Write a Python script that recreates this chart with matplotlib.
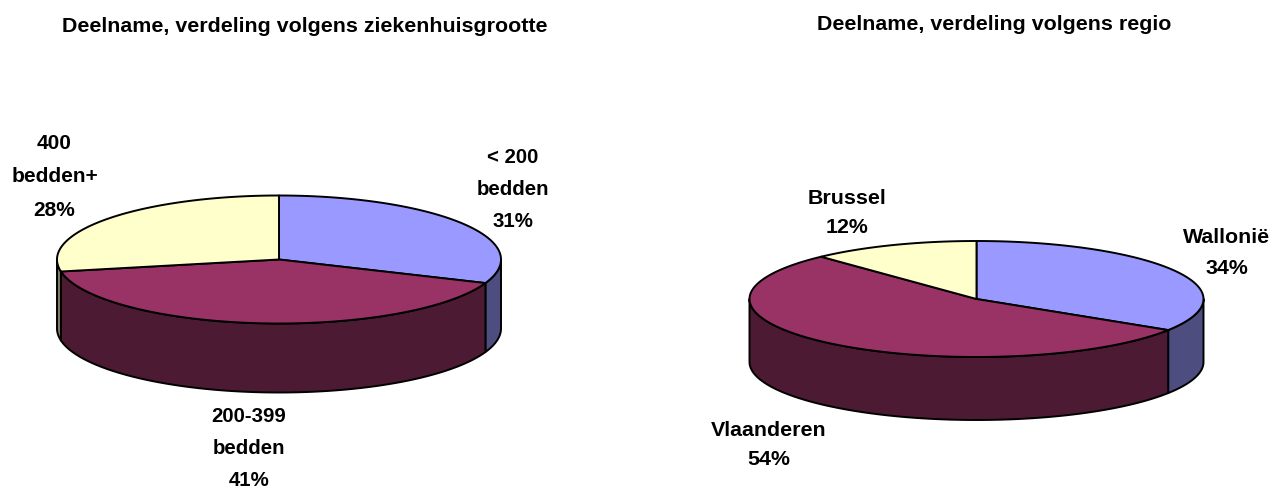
import numpy as np
import matplotlib
matplotlib.use("Agg")
import matplotlib.pyplot as plt
from matplotlib.patches import Polygon

plt.rcParams['font.family'] = ['Liberation Sans', 'DejaVu Sans']

size_title = "Deelname, verdeling volgens ziekenhuisgrootte"
size_labels = ["< 200\nbedden\n31%", "200-399\nbedden\n41%", "400\nbedden+\n28%"]
size_values = [31, 41, 28]

region_title = "Deelname, verdeling volgens regio"
region_labels = ["Wallonië\n34%", "Vlaanderen\n54%", "Brussel\n12%"]
region_values = [34, 54, 12]

top_colors = ["#9999FF", "#993366", "#FFFFCC"]
side_colors = ["#4D4D80", "#4D1A33", "#808066"]
EDGE = "black"
W, H = 1286, 489

fig = plt.figure(figsize=(W / 100, H / 100), dpi=100, facecolor="white")
ax = fig.add_axes([0, 0, 1, 1])
ax.set_xlim(0, W)
ax.set_ylim(H, 0)
ax.axis("off")


def pie3d(values, cx, cy, rx, ry, depth):
    fr = np.cumsum([0] + list(values)) / np.sum(values) * 2 * np.pi
    lw = 1.4
    # visible outer walls (front half of the rim)
    for i in range(len(values)):
        a, b = fr[i], fr[i + 1]
        lo, hi = max(a, np.pi / 2), min(b, 3 * np.pi / 2)
        if hi > lo:
            t = np.linspace(lo, hi, 100)
            x = cx + rx * np.sin(t)
            y = cy - ry * np.cos(t)
            pts = np.r_[np.c_[x, y], np.c_[x, y + depth][::-1]]
            ax.add_patch(Polygon(pts, closed=True, fc=side_colors[i], ec=EDGE, lw=lw, joinstyle="round", zorder=2))
    # top slices
    for i in range(len(values)):
        t = np.linspace(fr[i], fr[i + 1], 200)
        x = cx + rx * np.sin(t)
        y = cy - ry * np.cos(t)
        pts = np.r_[[[cx, cy]], np.c_[x, y]]
        ax.add_patch(Polygon(pts, closed=True, fc=top_colors[i], ec=EDGE, lw=lw, joinstyle="round", zorder=3))


pie3d(size_values, 279, 260.5, 222, 64, 69)
pie3d(region_values, 976.5, 300, 227, 58, 63)


def txt(x, y, s, size, spacing=1.0):
    ax.text(x, y, s, ha="center", va="center", fontsize=size, fontweight="bold", color="black", linespacing=spacing)


txt(304.5, 27, size_title, 15.4)
txt(994.5, 24, region_title, 15.4)
txt(513, 189.5, size_labels[0], 14.7, 1.88)
txt(249, 448.5, size_labels[1], 14.7, 1.88)
txt(54.5, 177, size_labels[2], 15.0, 1.95)
txt(1227, 253, region_labels[0], 15.4, 1.8)
txt(769, 445, region_labels[1], 15.4, 1.62)
txt(847, 213, region_labels[2], 15.4, 1.62)

fig.savefig("out.png", dpi=100)
